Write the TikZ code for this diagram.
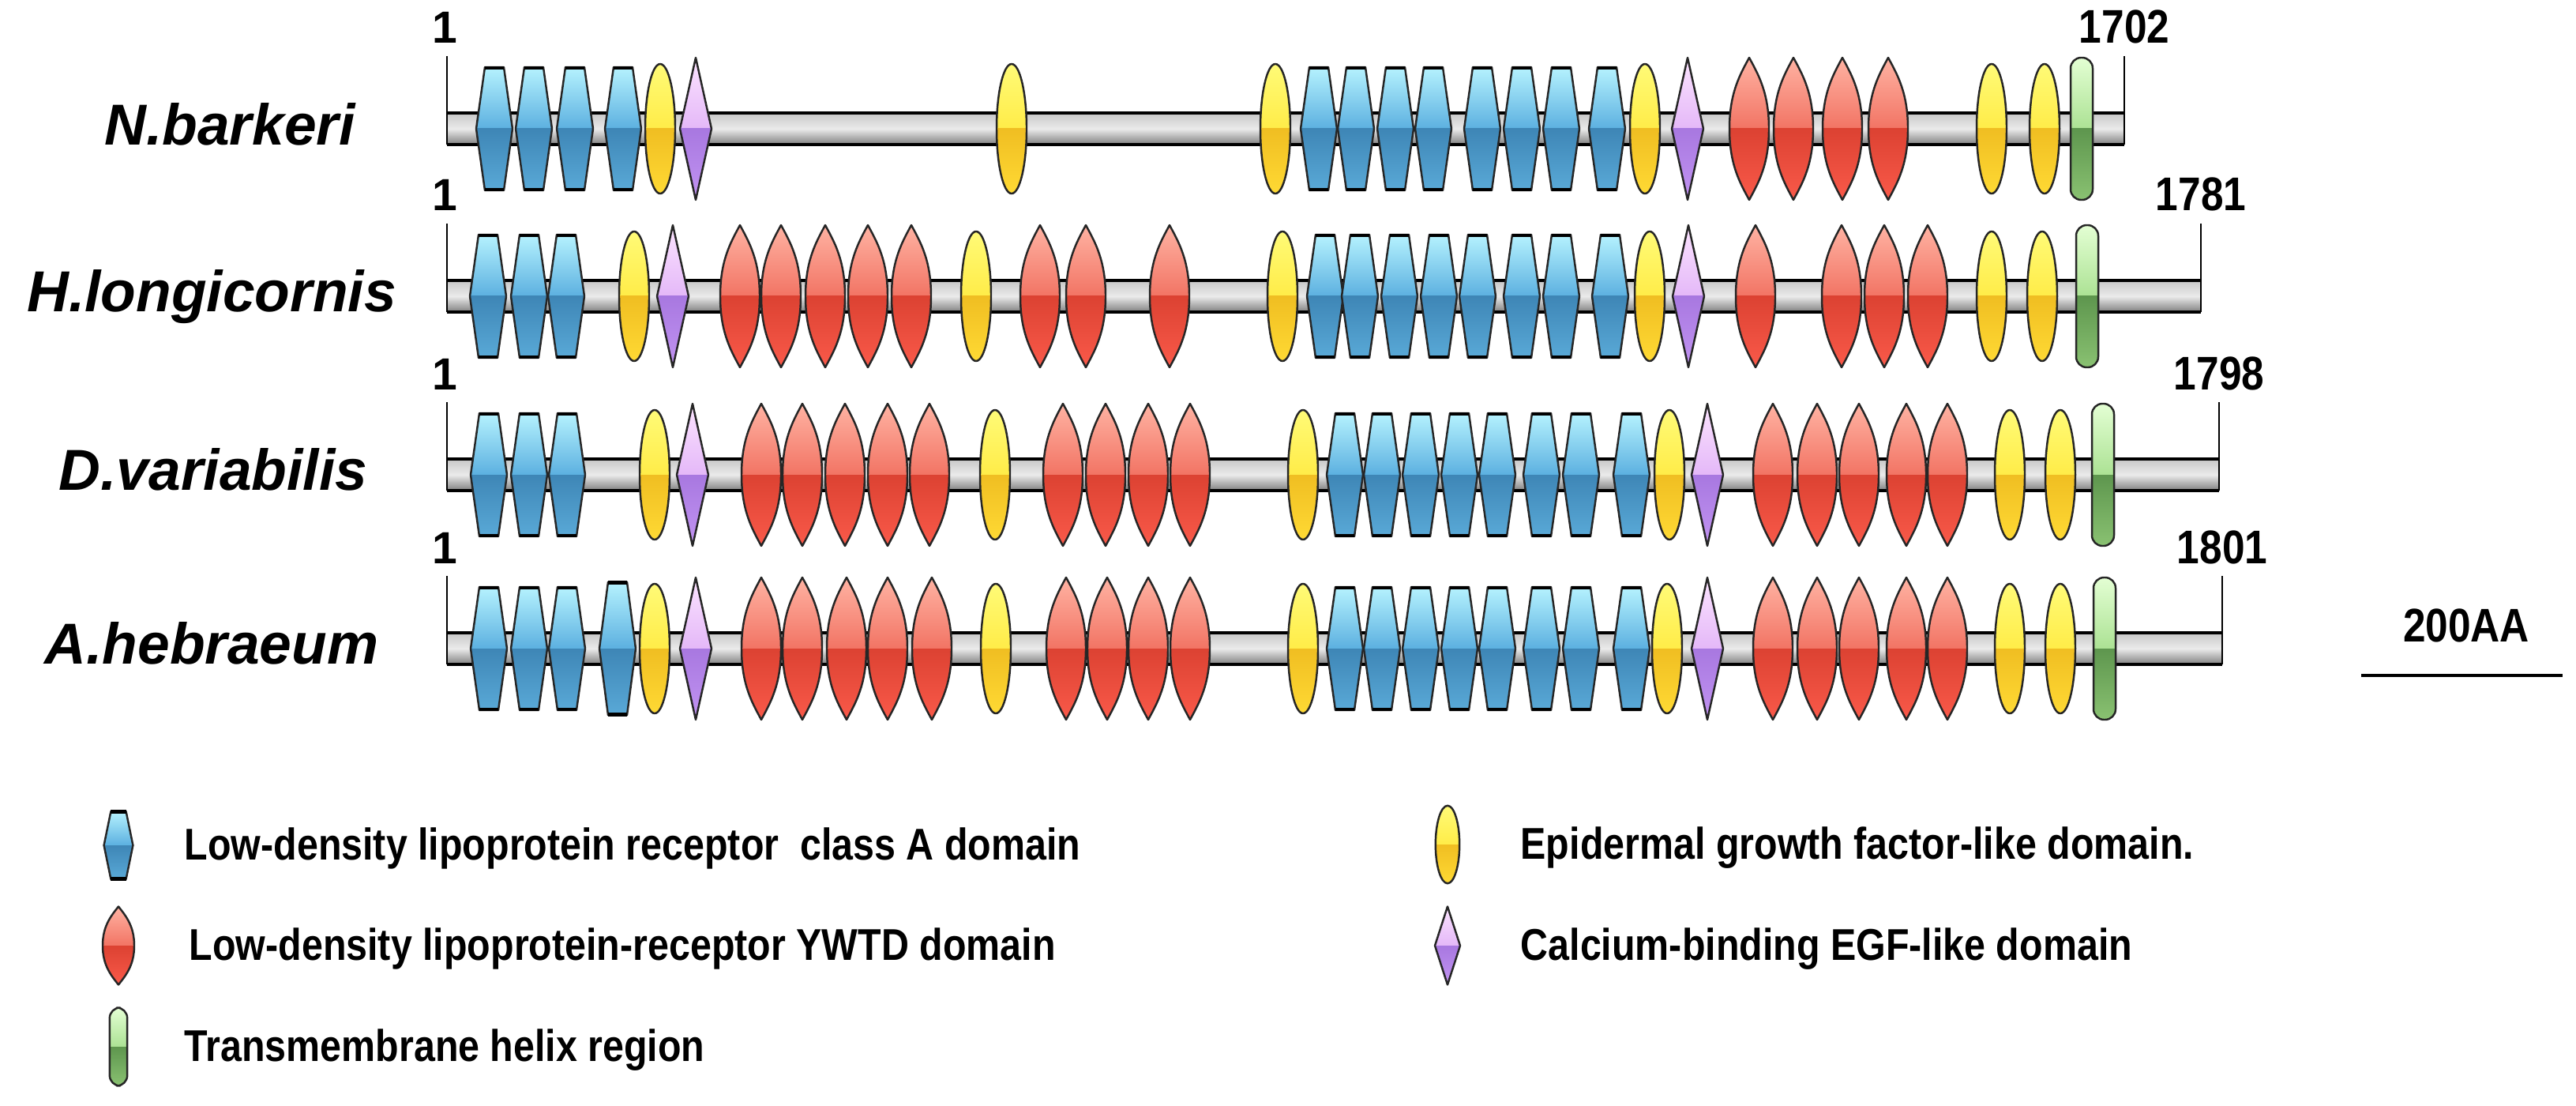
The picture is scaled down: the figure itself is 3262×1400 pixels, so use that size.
\documentclass[tikz,border=0pt]{standalone}
\usepackage{fontspec}
\setmainfont{Liberation Sans}
\newfontfamily\narrowfont{Liberation Sans}[FakeStretch=0.86]
\usepackage{tikz}

\definecolor{bluehi}{HTML}{B8F4FF}
\definecolor{bluemid}{HTML}{5CB0E0}
\definecolor{bluedk}{HTML}{3E86B6}
\definecolor{bluelo}{HTML}{5AAAD8}
\definecolor{redhi}{HTML}{FFB4A4}
\definecolor{redmid}{HTML}{F27464}
\definecolor{reddk}{HTML}{DC4232}
\definecolor{redlo}{HTML}{FA5A4A}
\definecolor{yelhi}{HTML}{FFFB78}
\definecolor{yelmid}{HTML}{FFEC48}
\definecolor{yeldk}{HTML}{F0BE22}
\definecolor{yello}{HTML}{FFDA34}
\definecolor{purhi}{HTML}{FCE4FF}
\definecolor{purmid}{HTML}{E4B8F8}
\definecolor{purdk}{HTML}{A878E0}
\definecolor{purlo}{HTML}{C294F2}
\definecolor{grnhi}{HTML}{E4FFD4}
\definecolor{grnmid}{HTML}{ACE294}
\definecolor{grndk}{HTML}{5E964E}
\definecolor{grnlo}{HTML}{8AC272}

\tikzset{
  outline/.style={draw=black!85, line width=0.7pt, line join=round},
  species/.style={font=\fontsize{20.8}{24}\selectfont\bfseries\itshape, anchor=base, inner sep=0pt},
  startnum/.style={font=\fontsize{16.2}{19}\selectfont\bfseries, anchor=base, inner sep=0pt},
  endnum/.style={font=\narrowfont\fontsize{17}{19}\selectfont\bfseries, anchor=base, inner sep=0pt},
  legtext/.style={font=\narrowfont\fontsize{16}{19}\selectfont\bfseries, anchor=base west, inner sep=0pt},
  pics/ldla/.style={code={
    \begin{scope}
      \clip (-12,78)--(12,78)--(23,0)--(12,-78)--(-12,-78)--(-23,0)--cycle;
      \fill[top color=bluehi, bottom color=bluemid] (-25,0) rectangle (25,80);
      \fill[top color=bluedk, bottom color=bluelo] (-25,-80) rectangle (25,0);
    \end{scope}
    \draw[outline] (-12,78)--(12,78)--(23,0)--(12,-78)--(-12,-78)--(-23,0)--cycle;
    \draw[line width=1.4pt] (-12,-77)--(12,-77);
    \draw[line width=1.4pt] (-12,77)--(12,77);
  }},
  pics/ywtd/.style={code={
    \begin{scope}
      \clip (0,90) .. controls (12,68) and (25,45) .. (25,0)
        .. controls (25,-45) and (12,-68) .. (0,-90)
        .. controls (-12,-68) and (-25,-45) .. (-25,0)
        .. controls (-25,45) and (-12,68) .. (0,90) -- cycle;
      \fill[top color=redhi, bottom color=redmid] (-26,0) rectangle (26,92);
      \fill[top color=reddk, bottom color=redlo] (-26,-92) rectangle (26,0);
    \end{scope}
    \draw[outline] (0,90) .. controls (12,68) and (25,45) .. (25,0)
        .. controls (25,-45) and (12,-68) .. (0,-90)
        .. controls (-12,-68) and (-25,-45) .. (-25,0)
        .. controls (-25,45) and (-12,68) .. (0,90) -- cycle;
  }},
  pics/egf/.style={code={
    \begin{scope}
      \clip (0,0) ellipse[x radius=19, y radius=82];
      \fill[top color=yelhi, bottom color=yelmid] (-20,0) rectangle (20,84);
      \fill[top color=yeldk, bottom color=yello] (-20,-84) rectangle (20,0);
    \end{scope}
    \draw[outline] (0,0) ellipse[x radius=19, y radius=82];
  }},
  pics/cbegf/.style={code={
    \begin{scope}
      \clip (0,90)--(20,0)--(0,-90)--(-20,0)--cycle;
      \fill[top color=purhi, bottom color=purmid] (-21,0) rectangle (21,91);
      \fill[top color=purdk, bottom color=purlo] (-21,-91) rectangle (21,0);
    \end{scope}
    \draw[outline] (0,90)--(20,0)--(0,-90)--(-20,0)--cycle;
  }},
  pics/tm/.style={code={
    \begin{scope}
      \clip[rounded corners=3.8pt] (-14,-90) rectangle (14,90);
      \fill[top color=grnhi, bottom color=grnmid] (-15,0) rectangle (15,91);
      \fill[top color=grndk, bottom color=grnlo] (-15,-91) rectangle (15,0);
    \end{scope}
    \draw[outline, rounded corners=3.8pt] (-14,-90) rectangle (14,90);
  }},
}

% protein backbone: #1 = centre y, #2 = end x, #3 = length, #4 = name
\newcommand\backbone[4]{%
  \coordinate (#4s) at (566,#1+92);
  \coordinate (#4e) at (#2,#1+92);
  \fill[top color=black!22, bottom color=black!50, middle color=white!92!black]
    (566,#1-20) rectangle (#2,#1+20);
  \draw[line width=1pt] (566,#1+20) -- (#2,#1+20);
  \draw[line width=1pt] (566,#1-20) -- (#2,#1-20);
  \draw[line width=0.8pt] (#4s) -- (566,#1-20);
  \draw[line width=0.8pt] (#4e) -- (#2,#1-20);
  \node[startnum] (#4one) at (563,#1+108) {1};
  \node[endnum] (#4len) at (#2,#1+108) {#3};
}

\begin{document}
\begin{tikzpicture}[x=0.01cm, y=0.01cm]
  \useasboundingbox (0,0) rectangle (3262,-1400);

  % N.barkeri
  \node[species] (nb) at (291,-184) {N.barkeri};
  \backbone{-163}{2690}{1702}{nb}
  \foreach \x in {626,676,728,789,1670,1717,1767,1815,1877,1927,1977,2035}
    \pic at (\x,-163) {ldla};
  \foreach \x in {2215,2271,2333,2391}
    \pic at (\x,-163) {ywtd};
  \foreach \x in {836,1281,1615,2083,2522,2589}
    \pic at (\x,-163) {egf};
  \foreach \x in {881,2137}
    \pic at (\x,-163) {cbegf};
  \pic at (2636,-163) {tm};

  % H.longicornis
  \node[species] (hl) at (268,-394) {H.longicornis};
  \backbone{-375}{2787}{1781}{hl}
  \foreach \x in {618,670,717,1678,1722,1772,1822,1871,1927,1977,2039}
    \pic at (\x,-375) {ldla};
  \foreach \x in {937,989,1045,1099,1154,1317,1375,1481,2223,2332,2386,2441}
    \pic at (\x,-375) {ywtd};
  \foreach \x in {803,1236,1624,2089,2522,2586}
    \pic at (\x,-375) {egf};
  \foreach \x in {852,2138}
    \pic at (\x,-375) {cbegf};
  \pic at (2643,-375) {tm};

  % D.variabilis
  \node[species] (dv) at (270,-620) {D.variabilis};
  \backbone{-601}{2810}{1798}{dv}
  \foreach \x in {619,670,718,1703,1750,1799,1848,1896,1952,2002,2066}
    \pic at (\x,-601) {ldla};
  \foreach \x in {964,1016,1070,1124,1177,1346,1400,1454,1507,2245,2301,2354,2414,2466}
    \pic at (\x,-601) {ywtd};
  \foreach \x in {829,1260,1650,2114,2545,2609}
    \pic at (\x,-601) {egf};
  \foreach \x in {877,2162}
    \pic at (\x,-601) {cbegf};
  \pic at (2663,-601) {tm};

  % A.hebraeum
  \node[species] (ah) at (268,-840) {A.hebraeum};
  \backbone{-821}{2814}{1801}{ah}
  \foreach \x in {619,670,718,1703,1750,1799,1848,1896,1952,2002,2066}
    \pic at (\x,-821) {ldla};
  \pic[yscale=1.08] at (782,-821) {ldla};
  \foreach \x in {964,1016,1072,1124,1180,1350,1402,1454,1507,2245,2301,2354,2414,2466}
    \pic at (\x,-821) {ywtd};
  \foreach \x in {829,1261,1650,2111,2545,2609}
    \pic at (\x,-821) {egf};
  \foreach \x in {881,2162}
    \pic at (\x,-821) {cbegf};
  \pic at (2665,-821) {tm};

  % scale bar
  \coordinate (sbl) at (2990,-855);
  \coordinate (sbr) at (3245,-855);
  \draw[line width=1.2pt] (sbl) -- (sbr);
  \node[endnum] (sbtext) at (3123,-812) {200AA};

  % legend
  \pic[xscale=0.8, yscale=0.55] at (150,-1070) {ldla};
  \node[legtext] (leg1) at (233,-1088) {Low-density lipoprotein receptor\ \ class A domain};
  \pic[xscale=0.8, yscale=0.55] at (150,-1197) {ywtd};
  \node[legtext] (leg2) at (239,-1215) {Low-density lipoprotein-receptor YWTD domain};
  \pic[xscale=0.8, yscale=0.55] at (150,-1325) {tm};
  \node[legtext] (leg3) at (233,-1343) {Transmembrane helix region};
  \pic[xscale=0.8, yscale=0.6] at (1833,-1069) {egf};
  \node[legtext] (leg4) at (1925,-1087) {Epidermal growth factor-like domain.};
  \pic[xscale=0.8, yscale=0.55] at (1833,-1197) {cbegf};
  \node[legtext] (leg5) at (1925,-1215) {Calcium-binding EGF-like domain};
\end{tikzpicture}
\end{document}
